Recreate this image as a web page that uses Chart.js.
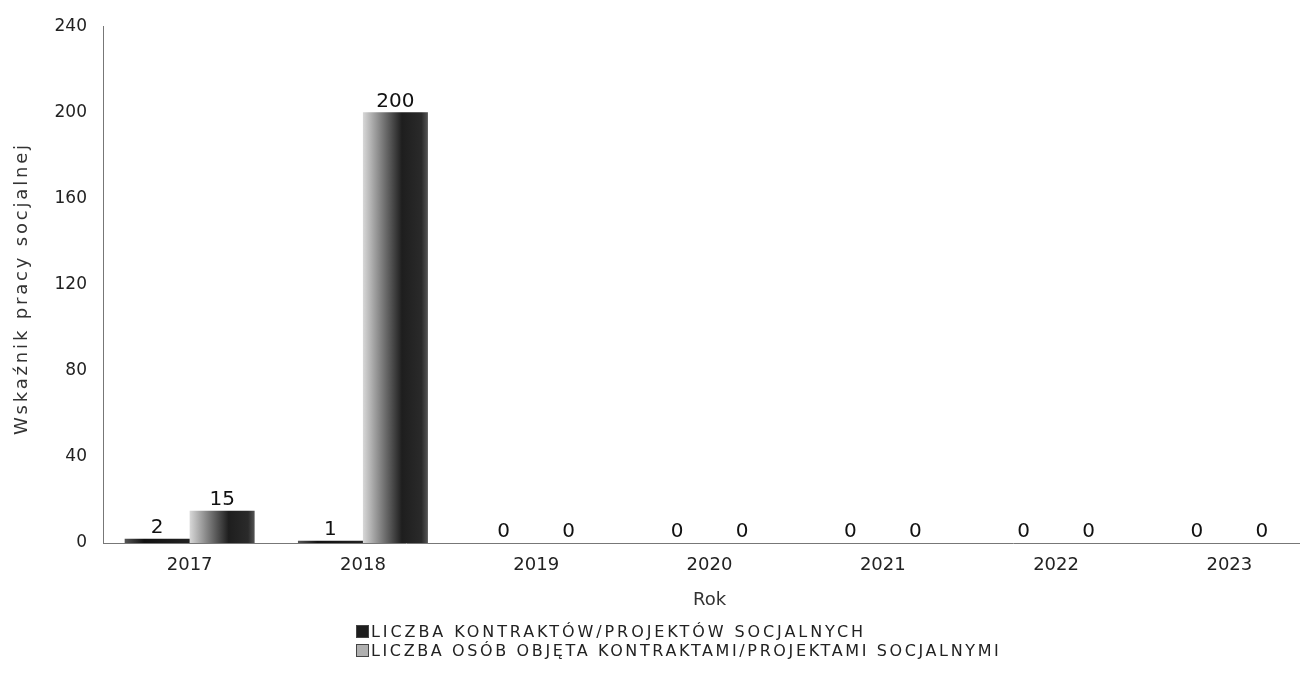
<!DOCTYPE html>
<html>
<head>
<meta charset="utf-8">
<script src="https://cdn.jsdelivr.net/npm/chart.js@4.4.0/dist/chart.umd.min.js"></script>
<style>
  html, body { margin: 0; padding: 0; background: #fff; overflow: hidden; }
  #wrap { width: 1316px; height: 689px; }
</style>
</head>
<body>
<div id="wrap"><canvas id="chart" width="1316" height="689"></canvas></div>
<script>
// ---- data ----
const years = ['2017', '2018', '2019', '2020', '2021', '2022', '2023'];
const contracts = [2, 1, 0, 0, 0, 0, 0];
const people = [15, 200, 0, 0, 0, 0, 0];
const yTicks = [0, 40, 80, 120, 160, 200, 240];
const yTitle = 'Wskaźnik pracy socjalnej';
const xTitle = 'Rok';
const seriesNames = [
  'LICZBA KONTRAKTÓW/PROJEKTÓW SOCJALNYCH',
  'LICZBA OSÓB OBJĘTA KONTRAKTAMI/PROJEKTAMI SOCJALNYMI'
];

const CAT_PCT = 0.75;
const ctx = document.getElementById('chart').getContext('2d');

// gradient per bar, built from the x scale
function barFill(c) {
  const chart = c.chart;
  const x = chart.scales.x;
  if (!chart.chartArea || !x || c.type !== 'data') {
    return c.datasetIndex === 0 ? '#222' : '#777';
  }
  const center = x.getPixelForValue(c.dataIndex);
  const half = (x.width / years.length) * CAT_PCT / 2;
  const x0 = c.datasetIndex === 0 ? center - half : center;
  const g = chart.ctx.createLinearGradient(x0, 0, x0 + half, 0);
  if (c.datasetIndex === 0) {
    g.addColorStop(0, '#555');
    g.addColorStop(0.3, '#111');
    g.addColorStop(1, '#222');
  } else {
    g.addColorStop(0, '#d8d8d8');
    g.addColorStop(0.3, '#7a7a7a');
    g.addColorStop(0.6, '#1e1e1e');
    g.addColorStop(0.9, '#2a2a2a');
    g.addColorStop(1, '#555');
  }
  return g;
}

// text drawn with a little letter spacing so it spans a given width
function spacedText(c, text, x, y, target) {
  c.letterSpacing = '0px';
  const w = c.measureText(text).width;
  const sp = Math.max(0, (target - w) / (text.length - 1));
  c.letterSpacing = sp.toFixed(2) + 'px';
  c.fillText(text, x, y);
  c.letterSpacing = '0px';
}

// value labels above bars
const valueLabels = {
  id: 'valueLabels',
  afterDatasetsDraw(chart) {
    const c = chart.ctx;
    c.save();
    c.font = '20px "DejaVu Sans", sans-serif';
    c.fillStyle = '#111';
    c.textAlign = 'center';
    c.textBaseline = 'bottom';
    chart.data.datasets.forEach((ds, i) => {
      chart.getDatasetMeta(i).data.forEach((bar, j) => {
        c.fillText(String(ds.data[j]), bar.x, bar.y - 1);
      });
    });
    c.restore();
  }
};

// y title and two-line legend
const extraText = {
  id: 'extraText',
  afterDraw(chart) {
    const c = chart.ctx;
    c.save();
    // y axis title
    c.translate(22, 290);
    c.rotate(-Math.PI / 2);
    c.font = '18px "DejaVu Sans", sans-serif';
    c.fillStyle = '#333';
    c.textAlign = 'left';
    c.textBaseline = 'middle';
    spacedText(c, yTitle, -145, 0, 290);
    c.restore();

    c.save();
    const swatch = ['#1e1e1e', '#b0b0b0'];
    const widths = [492, 628];
    c.font = '16px "DejaVu Sans", sans-serif';
    c.textBaseline = 'middle';
    seriesNames.forEach((name, i) => {
      const y = 632 + i * 19;
      c.fillStyle = swatch[i];
      c.fillRect(356, y - 7, 13, 13);
      c.strokeStyle = '#444';
      c.lineWidth = 1;
      c.strokeRect(356.5, y - 6.5, 12, 12);
      c.fillStyle = '#222';
      spacedText(c, name, 371, y + 1, widths[i]);
    });
    c.restore();
  }
};

const chart = new Chart(ctx, {
  type: 'bar',
  data: {
    labels: years,
    datasets: [
      { label: seriesNames[0], data: contracts, backgroundColor: barFill },
      { label: seriesNames[1], data: people, backgroundColor: barFill }
    ]
  },
  options: {
    responsive: false,
    animation: false,
    categoryPercentage: CAT_PCT,
    barPercentage: 1,
    layout: { padding: { top: 25, right: 0, bottom: 66, left: 0 } },
    plugins: {
      legend: { display: false },
      tooltip: { enabled: false }
    },
    scales: {
      x: {
        grid: { display: false, drawTicks: false },
        border: { display: true, color: '#777', dash: [1, 2] },
        ticks: { color: '#222', font: { family: 'DejaVu Sans', size: 18 }, padding: 12 },
        title: { display: true, text: xTitle, color: '#333',
                 font: { family: 'DejaVu Sans', size: 18 }, padding: { top: 8, bottom: 12 } },
        afterFit(axis) { axis.height = 80; }
      },
      y: {
        min: 0,
        max: 240,
        afterBuildTicks(axis) { axis.ticks = yTicks.map(v => ({ value: v })); },
        grid: { display: false, drawTicks: false },
        border: { display: true, color: '#777', dash: [1, 2] },
        ticks: { color: '#222', font: { family: 'DejaVu Sans', size: 17 }, padding: 16 },
        title: { display: false },
        afterFit(axis) { axis.width = 103; }
      }
    }
  },
  plugins: [valueLabels, extraText]
});
</script>
</body>
</html>
